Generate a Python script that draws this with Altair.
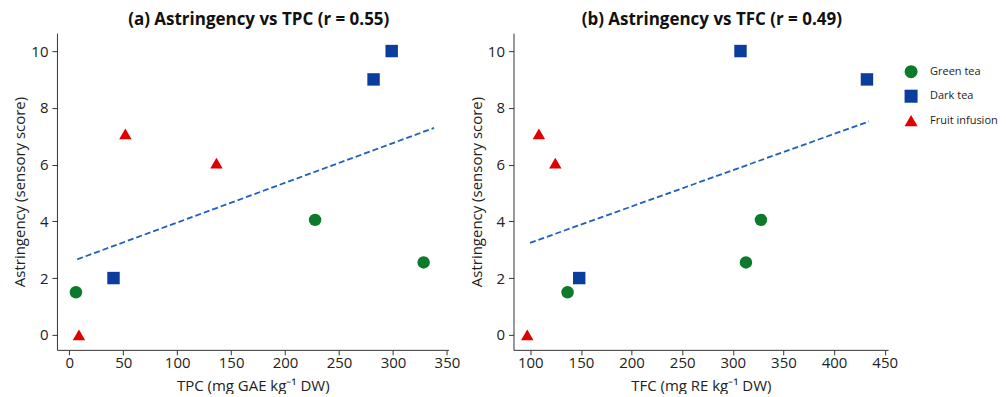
import altair as alt
import pandas as pd

# ---- data ----
groups = ["Green tea", "Green tea", "Green tea",
          "Dark tea", "Dark tea", "Dark tea",
          "Fruit infusion", "Fruit infusion", "Fruit infusion"]
tpc = [6.2, 227.8, 328.4, 41.0, 282.0, 298.8, 9.0, 52.0, 136.4]
tfc = [136.8, 327.8, 313.0, 148.3, 432.5, 307.6, 97.0, 108.5, 124.7]
astr = [1.5, 4.05, 2.55, 2.0, 9.0, 10.0, 0.0, 7.08, 6.05]

group_order = ["Green tea", "Dark tea", "Fruit infusion"]
group_colors = ["#0b7a2a", "#0a3d9c", "#e00000"]
group_shapes = ["circle", "square", "triangle-up"]

# fitted trend line end points
fit_tpc_x = [7.4, 338.0]
fit_tpc_y = [2.66, 7.29]
fit_tfc_x = [99.7, 434.5]
fit_tfc_y = [3.24, 7.52]

x_ticks_tpc = [0, 50, 100, 150, 200, 250, 300, 350]
x_ticks_tfc = [100, 150, 200, 250, 300, 350, 400, 450]
y_ticks = [0, 2, 4, 6, 8, 10]

df = pd.DataFrame({"group": groups, "tpc": tpc, "tfc": tfc, "astr": astr})
fit_a = pd.DataFrame({"tpc": fit_tpc_x, "astr": fit_tpc_y})
fit_b = pd.DataFrame({"tfc": fit_tfc_x, "astr": fit_tfc_y})

FONT = "Open Sans"

color_scale = alt.Scale(domain=group_order, range=group_colors)
shape_scale = alt.Scale(domain=group_order, range=group_shapes)
y_enc = alt.Y("astr:Q", title="Astringency (sensory score)",
              scale=alt.Scale(domain=[-0.53, 10.63], nice=False, zero=False),
              axis=alt.Axis(values=y_ticks, titlePadding=3, labelPadding=4))


def panel(xfield, xtitle, xdomain, xticks, fitdf, title, width, dx, show_legend):
    x_enc = alt.X(f"{xfield}:Q", title=xtitle,
                  scale=alt.Scale(domain=xdomain, nice=False, zero=False),
                  axis=alt.Axis(values=xticks, titlePadding=8, labelPadding=1))
    legend = alt.Legend(title=None, orient="none", legendX=391, legendY=31.6) if show_legend else None
    pts = alt.Chart(df).mark_point(filled=True, opacity=1, size=155).encode(
        x=x_enc, y=y_enc,
        color=alt.Color("group:N", scale=color_scale, legend=legend, sort=group_order),
        shape=alt.Shape("group:N", scale=shape_scale, legend=legend, sort=group_order),
    )
    fit = alt.Chart(fitdf).mark_line(
        color="#1f5fbf", strokeDash=[6, 3], strokeWidth=1.8
    ).encode(x=alt.X(f"{xfield}:Q"), y=alt.Y("astr:Q"))
    return alt.layer(fit, pts).properties(
        width=width, height=317,
        title=alt.Title(title, fontSize=17, fontWeight="bold", font=FONT,
                        offset=4, dx=dx, color="#111"),
    )


a = panel("tpc", "TPC (mg GAE kg⁻¹ DW)", [-11.4, 351.5], x_ticks_tpc, fit_a,
          "(a) Astringency vs TPC (r = 0.55)", 392, 6, False)
b = panel("tfc", "TFC (mg RE kg⁻¹ DW)", [83.4, 453.4], x_ticks_tfc, fit_b,
          "(b) Astringency vs TFC (r = 0.49)", 375, 11, True)

chart = alt.hconcat(a, b, spacing=65, bounds="flush").resolve_legend(
    color="independent", shape="independent"
).configure_view(stroke=None).configure_axis(
    grid=False, domainColor="#333", tickColor="#333", tickSize=5,
    labelColor="#222", titleColor="#222", labelFont=FONT, titleFont=FONT,
    labelFontSize=15, titleFontSize=15, titleFontWeight="normal",
).configure_legend(
    labelFont=FONT, labelFontSize=11, labelColor="#222", symbolSize=170,
    padding=0, labelOffset=12, rowPadding=10.5, symbolStrokeWidth=0,
).properties(padding={"left": 4, "top": 3, "right": 0, "bottom": 0})

chart.save("out.html", embed_options={"renderer": "svg", "actions": False})
